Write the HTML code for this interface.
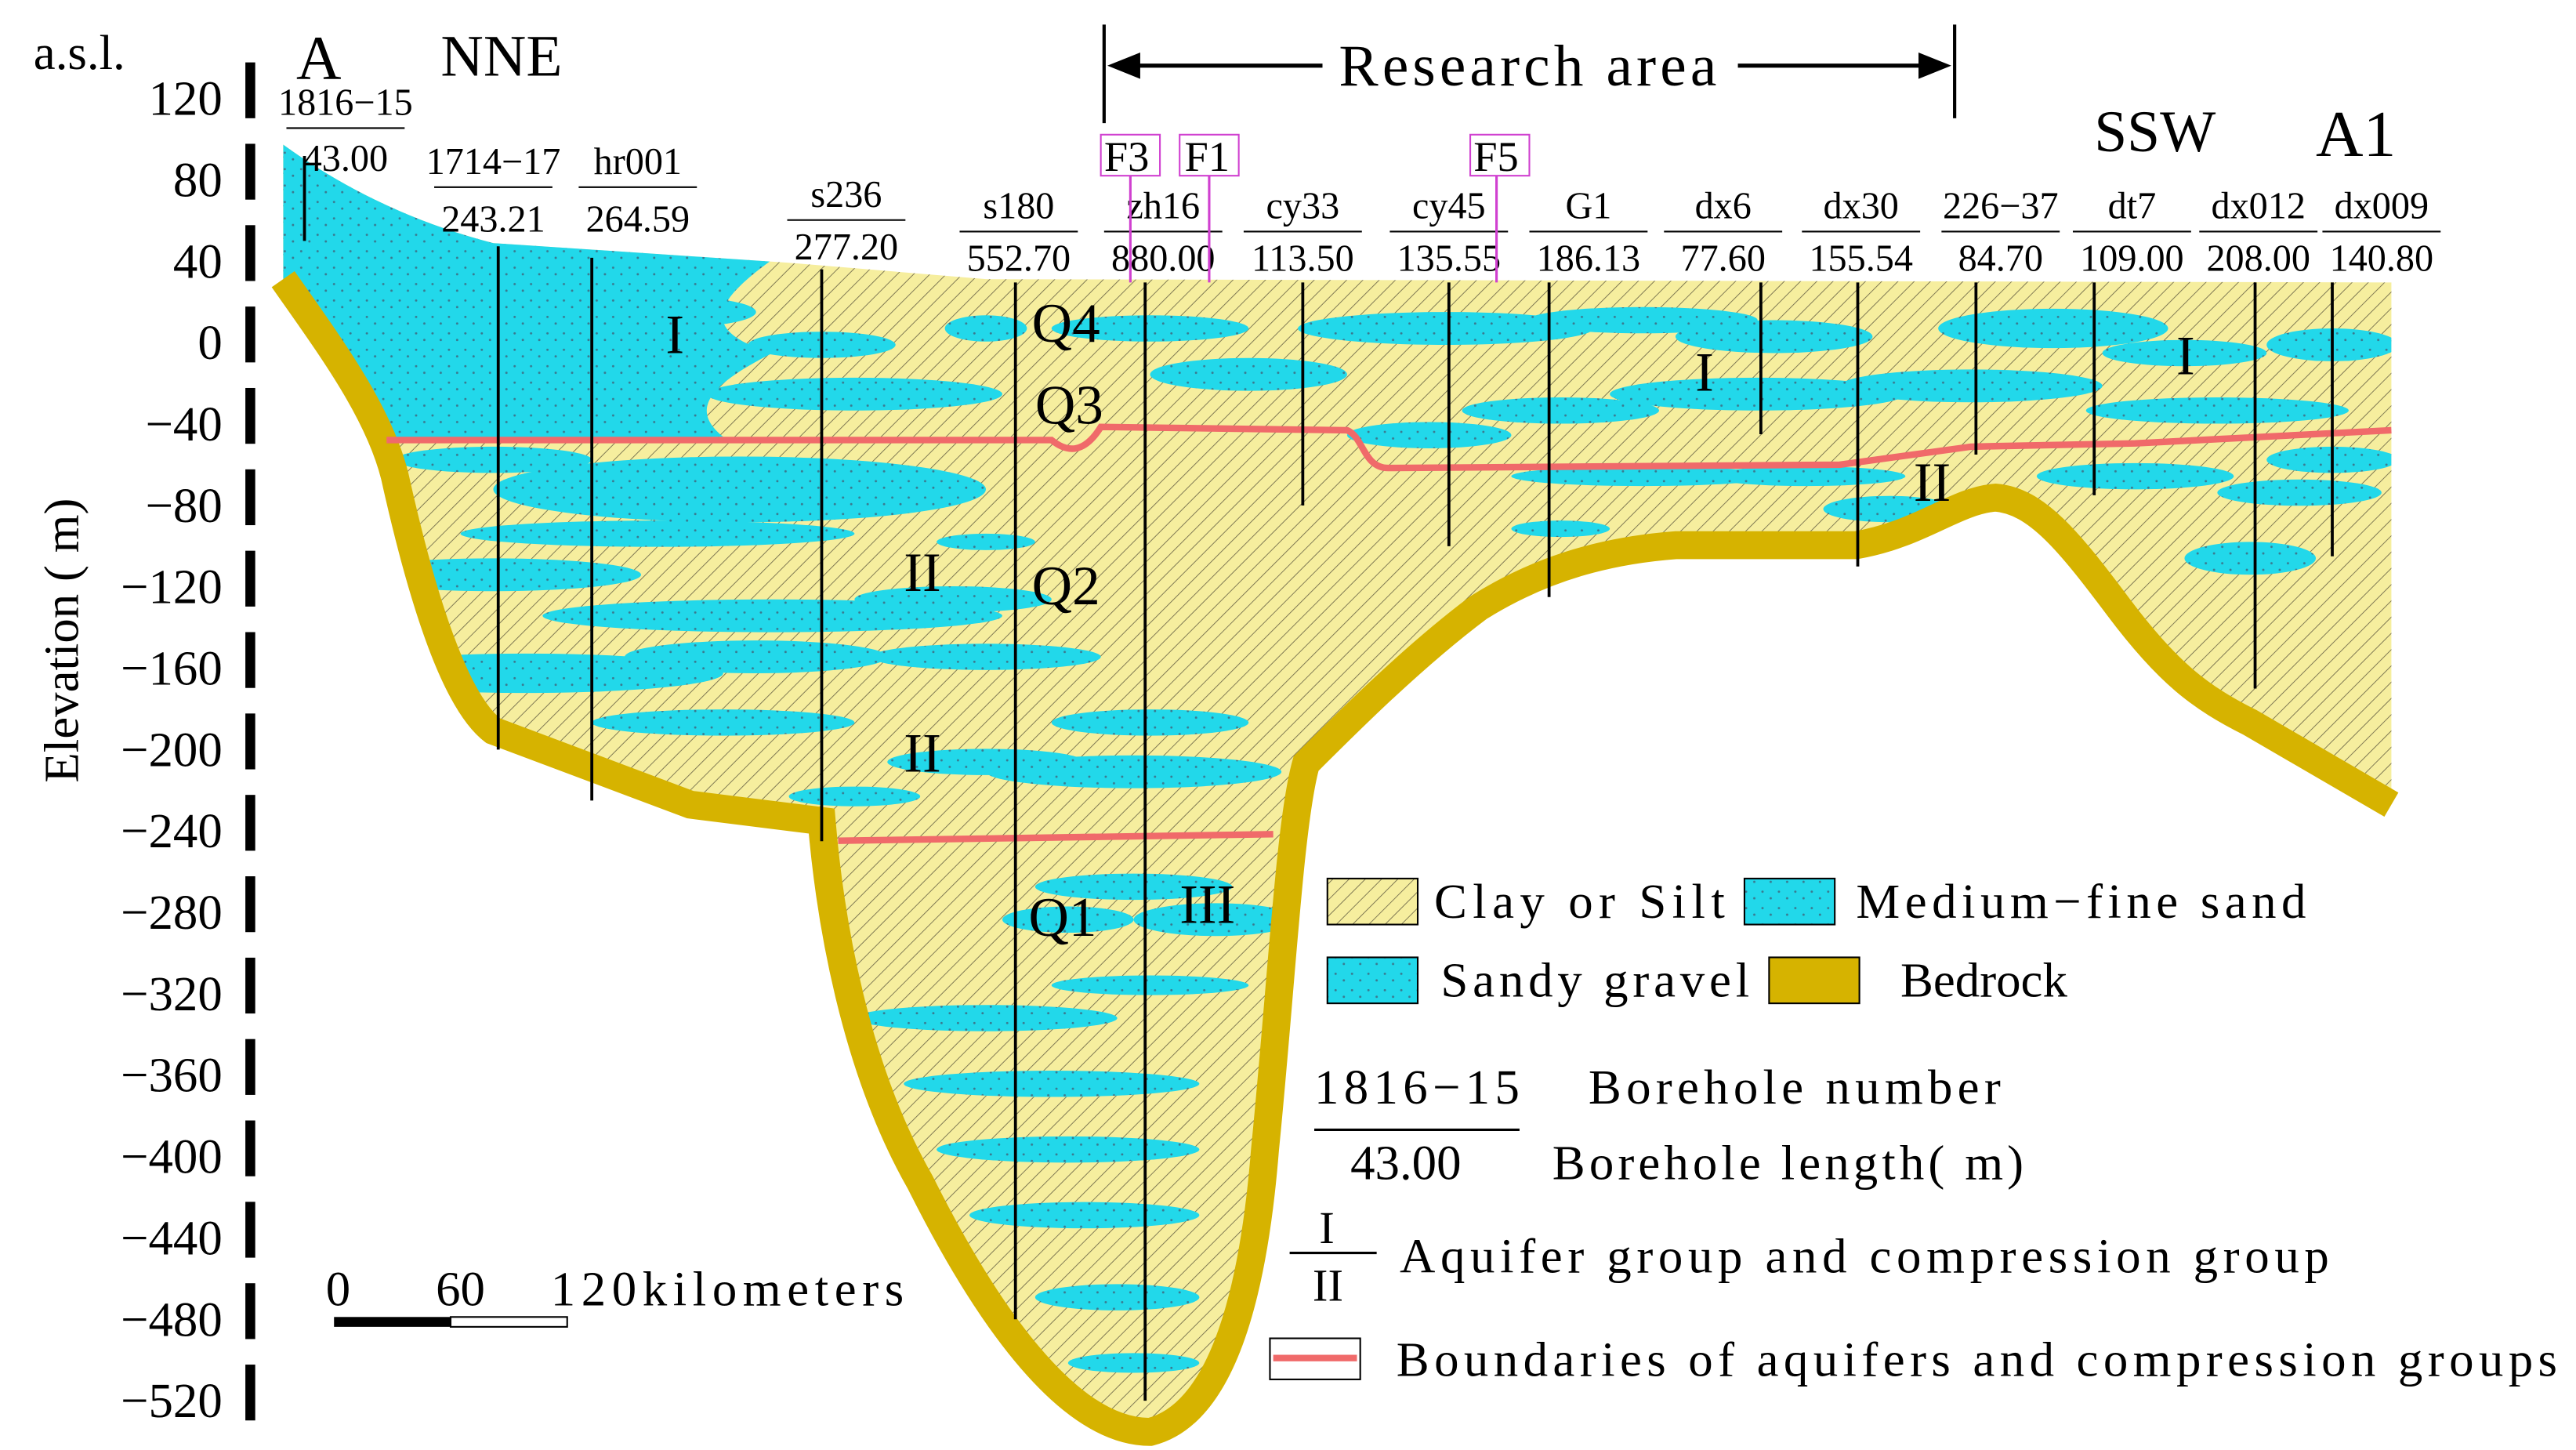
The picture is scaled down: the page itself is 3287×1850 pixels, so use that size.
<!DOCTYPE html>
<html><head><meta charset="utf-8"><style>
html,body{margin:0;padding:0;background:#fff}
svg{display:block}
text{font-family:"Liberation Serif",serif;fill:#000}
</style></head><body>
<svg id="chart" width="3287" height="1850" viewBox="0 0 1568 883" xmlns="http://www.w3.org/2000/svg">
<defs>
<pattern id="hatch" width="7" height="7" patternUnits="userSpaceOnUse" patternTransform="rotate(45)">
<rect width="7" height="7" fill="#f6ee9e"/><line x1="0" y1="0" x2="0" y2="7" stroke="#7a7450" stroke-width="0.9"/>
</pattern>
<pattern id="dots" width="10" height="10" patternUnits="userSpaceOnUse">
<rect width="10" height="10" fill="#22d8ea"/><circle cx="3" cy="3" r="0.7" fill="#3a7a90"/><circle cx="8" cy="7" r="0.7" fill="#3a7a90"/>
</pattern>
<clipPath id="sed"><path id="sedClip" d=""/></clipPath>
</defs>
<g id="axis"></g>
<g id="section"></g>
<g id="bores"></g>
<g id="legend">
<rect x="808" y="535" width="55" height="28" fill="url(#hatch)" stroke="#000"/>
<text x="873" y="559" font-size="30" textLength="177" lengthAdjust="spacing">Clay or Silt</text>
<rect x="1062" y="535" width="55" height="28" fill="url(#dots)" stroke="#000"/>
<text x="1130" y="559" font-size="30" textLength="274" lengthAdjust="spacing">Medium−fine sand</text>
<rect x="808" y="583" width="55" height="28" fill="url(#dots)" stroke="#000"/>
<text x="877" y="607" font-size="30" textLength="188" lengthAdjust="spacing">Sandy gravel</text>
<rect x="1077" y="583" width="55" height="28" fill="#d6b300" stroke="#000"/>
<text x="1157" y="607" font-size="30">Bedrock</text>
<text x="800" y="672" font-size="30" textLength="125" lengthAdjust="spacing">1816−15</text>
<line x1="800" y1="688" x2="925" y2="688" stroke="#000" stroke-width="1.5"/>
<text x="822" y="718" font-size="30">43.00</text>
<text x="967" y="672" font-size="30" textLength="251" lengthAdjust="spacing">Borehole number</text>
<text x="945" y="718" font-size="30" textLength="287" lengthAdjust="spacing">Borehole length( m)</text>
<text x="803" y="757" font-size="28">I</text>
<line x1="785" y1="763" x2="838" y2="763" stroke="#000" stroke-width="1.5"/>
<text x="799" y="792" font-size="28">II</text>
<text x="852" y="775" font-size="30" textLength="566" lengthAdjust="spacing">Aquifer group and compression group</text>
<rect x="773" y="815" width="55" height="25" fill="#fff" stroke="#000"/>
<line x1="775" y1="827" x2="826" y2="827" stroke="#f06a6a" stroke-width="4"/>
<text x="850" y="838" font-size="30" textLength="707" lengthAdjust="spacing">Boundaries of aquifers and compression groups</text>
</g>
<g>
<text x="198" y="795" font-size="30">0</text><text x="265" y="795" font-size="30">60</text><text x="335" y="795" font-size="30" textLength="215" lengthAdjust="spacing">120kilometers</text>
<rect x="203" y="802" width="71" height="6" fill="#000"/><rect x="274" y="802" width="71" height="6" fill="#fff" stroke="#000"/>
</g>
<g>
<line x1="672" y1="15" x2="672" y2="75" stroke="#000" stroke-width="2"/>
<line x1="1190" y1="15" x2="1190" y2="72" stroke="#000" stroke-width="2"/>
<line x1="680" y1="40" x2="805" y2="40" stroke="#000" stroke-width="2.5"/>
<polygon points="674,40 694,32 694,48" fill="#000"/>
<line x1="1058" y1="40" x2="1182" y2="40" stroke="#000" stroke-width="2.5"/>
<polygon points="1188,40 1168,32 1168,48" fill="#000"/>
<text x="815" y="52" font-size="36" textLength="230" lengthAdjust="spacing">Research area</text>
</g>
<text x="20" y="42" font-size="30">a.s.l.</text>
<text x="180" y="48" font-size="38">A</text>
<text x="268" y="46" font-size="36">NNE</text>
<text x="1275" y="92" font-size="36">SSW</text>
<text x="1410" y="95" font-size="40">A1</text>
<text transform="translate(47,390) rotate(-90)" font-size="30" text-anchor="middle">Elevation ( m)</text>
<g font-size="26">
<rect x="670" y="82" width="36" height="25" fill="none" stroke="#d040d0"/><text x="672" y="104">F3</text><line x1="688" y1="107" x2="688" y2="172" stroke="#d040d0" stroke-width="1.5"/>
<rect x="718" y="82" width="36" height="25" fill="none" stroke="#d040d0"/><text x="721" y="104">F1</text><line x1="736" y1="107" x2="736" y2="172" stroke="#d040d0" stroke-width="1.5"/>
<rect x="895" y="82" width="36" height="25" fill="none" stroke="#d040d0"/><text x="897" y="104">F5</text><line x1="911" y1="107" x2="911" y2="172" stroke="#d040d0" stroke-width="1.5"/>
</g>
<script>
const ticks=[120,80,40,0,-40,-80,-120,-160,-200,-240,-280,-320,-360,-400,-440,-480,-520];
const boreNames=["1816−15","1714−17","hr001","s236","s180","zh16","cy33","cy45","G1","dx6","dx30","226−37","dt7","dx012","dx009"];
const boreLengths=["43.00","243.21","264.59","277.20","552.70","880.00","113.50","135.55","186.13","77.60","155.54","84.70","109.00","208.00","140.80"];
const boreX=[185,303,360,500,618,697,793,882,943,1072,1131,1203,1275,1373,1420];
const boreLabelX=[210,300,388,515,620,708,793,882,967,1049,1133,1218,1298,1375,1450];
const boreBottomElev=[50,-200,-225,-245,-480,-520,-80,-100,-125,-45,-110,-55,-75,-170,-105];
const NS="http://www.w3.org/2000/svg";
function y(v){return 60+(120-v)*793/640;}
function mk(t,a,p){const e=document.createElementNS(NS,t);for(const k in a)e.setAttribute(k,a[k]);p.appendChild(e);return e;}
const ax=document.getElementById('axis');
ticks.forEach((v,i)=>{
 const t=mk('text',{x:135,y:y(v)+10,'font-size':30,'text-anchor':'end'},ax);
 
 
 t.textContent=String(v).replace('-','\u2212');
 const r=mk('rect',{x:149,y:y(v)-22,width:6,height:34,fill:'#000'},ax);
 
 
});
const bottom="C200,210 230,250 240,290 C260,380 280,430 300,445 L420,490 L500,500 C505,560 520,650 560,720 C600,800 650,872 700,872 C740,862 762,800 770,700 C780,600 785,500 795,465 C820,440 860,400 900,370 C940,345 980,335 1020,332 L1130,332 C1170,325 1190,305 1215,303 C1240,305 1260,330 1290,370 C1320,410 1340,425 1370,440 L1456,490";
const sedD="M172,170 "+bottom+" L1456,172 L600,170 L480,160 L300,148 Q230,130 172,88 Z";
document.getElementById('sedClip').setAttribute('d',sedD);
const sec=document.getElementById('section');
const s=mk('path',{d:sedD,fill:'url(#hatch)'},sec);


const g=mk('g',{'clip-path':'url(#sed)'},sec);
mk('path',{d:"M172,88 Q230,130 300,148 L470,158 C440,180 420,200 470,215 C430,235 420,250 440,266 L235,268 C200,220 180,190 172,170 Z",fill:'url(#dots)'},g);
const lenses=[[300,165,30,4],[300,232,20,3],[400,190,60,10],[500,210,45,8],[520,240,90,10],[600,200,25,8],[700,200,60,8],[760,228,60,10],[880,200,90,10],[1000,195,70,8],[1080,205,60,10],[1250,200,70,12],[1330,215,50,8],[1420,210,40,10],[1070,240,90,10],[1200,235,80,10],[950,250,60,8],[1350,250,80,8],[870,265,50,8],[1420,280,40,8],[450,298,150,20],[300,280,60,8],[400,325,120,8],[600,330,30,5],[300,350,90,10],[470,375,140,10],[580,365,60,8],[320,410,120,12],[460,400,80,10],[600,400,70,8],[700,440,60,8],[440,440,80,8],[600,464,60,8],[690,470,90,10],[520,485,40,6],[950,322,30,5],[1150,310,40,8],[1370,340,40,10],[1300,290,60,8],[1400,300,50,8],[690,540,60,8],[740,560,50,10],[650,560,40,8],[600,620,80,8],[640,660,90,8],[650,700,80,8],[660,740,70,8],[680,790,50,8],[690,830,40,6],[700,600,60,6],[1000,290,80,6],[1100,290,60,6]];
lenses.forEach(l=>{const e=mk('ellipse',{cx:l[0],cy:l[1],rx:l[2],ry:l[3],fill:'url(#dots)'},g);

});
const br=mk('path',{d:"M172,170 "+bottom,fill:'none',stroke:'#d6b300','stroke-width':17},sec);


const r1=mk('path',{d:"M235,268 L640,268 C650,276 660,276 670,260 L820,262 C830,266 830,285 845,285 L1120,283 L1200,272 L1300,270 L1456,262",fill:'none',stroke:'#f06a6a','stroke-width':4},sec);


const r2=mk('path',{d:"M510,512 L775,508",fill:'none',stroke:'#f06a6a','stroke-width':4},sec);


[["Q4",628,208],["Q3",630,258],["Q2",628,368],["Q1",626,570],["I",405,215],["II",550,360],["II",550,470],["III",718,562],["I",1032,238],["I",1325,228],["II",1165,305]].forEach(l=>{
 const t=mk('text',{x:l[1],y:l[2],'font-size':34},sec);
 
 
 t.textContent=l[0];});
const bg=document.getElementById('bores');
boreX.forEach((x,i)=>{
 const top=i===0?95:(i<4?150+(i-1)*7:172);
 const ln=mk('line',{x1:x,y1:top,x2:x,y2:y(boreBottomElev[i]),stroke:'#000','stroke-width':1.8},bg);
 
 
 const lx=boreLabelX[i];
 const ny=i===0?70:(i<3?106:(i===3?126:133)), ly=i===0?104:(i<3?141:(i===3?158:165));
 const n=mk('text',{x:lx,y:ny,'font-size':23,'text-anchor':'middle'},bg);
 
 
 n.textContent=boreNames[i];
 mk('line',{x1:lx-36,y1:ny+8,x2:lx+36,y2:ny+8,stroke:'#000','stroke-width':1},bg);
 const lt=mk('text',{x:lx,y:ly,'font-size':23,'text-anchor':'middle'},bg);
 
 
 lt.textContent=boreLengths[i];
});
</script>
</svg>
</body></html>
